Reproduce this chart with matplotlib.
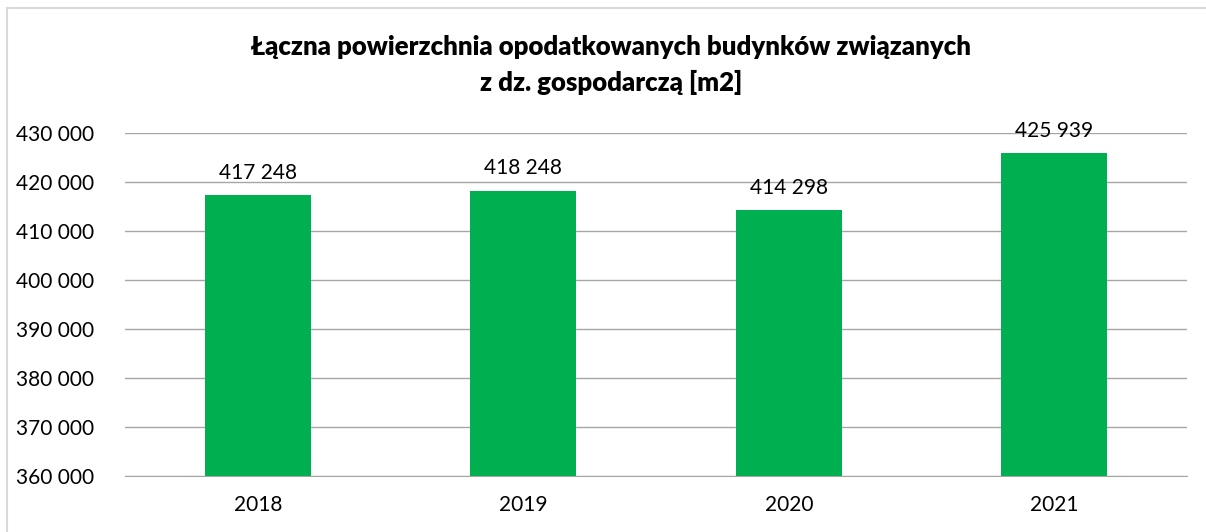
import matplotlib.pyplot as plt
from matplotlib.lines import Line2D

years = ['2018', '2019', '2020', '2021']
values = [417248, 418248, 414298, 425939]
yticks = [360000, 370000, 380000, 390000, 400000, 410000, 420000, 430000]

plt.rcParams['font.family'] = ['Lato', 'DejaVu Sans']

W, H = 1206, 532
fig = plt.figure(figsize=(W / 100, H / 100), dpi=100)

# frame of the chart area (only left and top edges are visible in the crop)
fig.lines.append(Line2D([7 / W, 7 / W], [0, (H - 8) / H], transform=fig.transFigure,
                        color='#d9d9d9', linewidth=1.5))
fig.lines.append(Line2D([7 / W, 1], [(H - 8) / H, (H - 8) / H], transform=fig.transFigure,
                        color='#d9d9d9', linewidth=1.5))

ax = fig.add_axes([125 / W, (H - 476) / H, (1187 - 125) / W, (476 - 133) / H])

x = range(len(years))
ax.bar(x, values, width=0.4, color='#00b050', zorder=3)
for xi, v in zip(x, values):
    ax.text(xi, v + 2500, f'{v:,}'.replace(',', ' '), ha='center', va='bottom',
            fontsize=15, color='#000000')

ax.set_xlim(-0.5, len(years) - 0.5)
ax.set_ylim(360000, 430000)
ax.set_yticks(yticks)
ax.set_yticklabels([f'{t:,}'.replace(',', ' ') for t in yticks])
ax.set_xticks(list(x))
ax.set_xticklabels(years)
ax.yaxis.grid(True, color='#a6a6a6', linewidth=1, zorder=0)
ax.tick_params(axis='both', length=0, labelsize=15, colors='#000000')
ax.tick_params(axis='y', pad=22)
ax.tick_params(axis='x', pad=14)
for s in ['top', 'right', 'left']:
    ax.spines[s].set_visible(False)
ax.spines['bottom'].set_color('#a6a6a6')

fig.text(611 / W, (H - 47) / H, 'Łączna powierzchnia opodatkowanych budynków związanych',
         ha='center', va='center', fontsize=18.5, fontweight='heavy')
fig.text(611 / W, (H - 82) / H, 'z dz. gospodarczą [m2]',
         ha='center', va='center', fontsize=18.5, fontweight='heavy')

fig.savefig('out.png', dpi=100)
